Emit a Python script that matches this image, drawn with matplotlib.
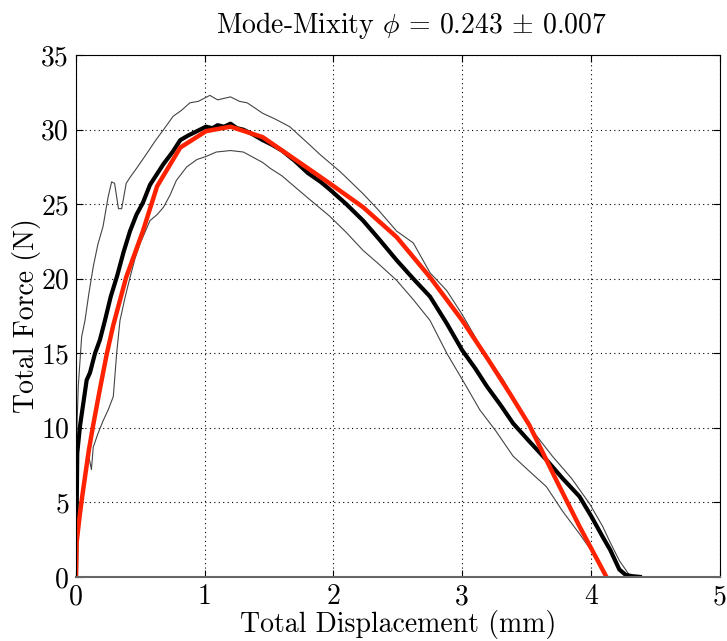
import matplotlib
matplotlib.use("Agg")
import matplotlib.pyplot as plt

plt.rcParams['font.family'] = 'serif'
plt.rcParams['font.serif'] = ['cmr10']
plt.rcParams['mathtext.fontset'] = 'cm'
plt.rcParams['axes.unicode_minus'] = False

# mean curve (thick black)
mean_x = [0, 0.005, 0.01, 0.031, 0.057, 0.083, 0.109, 0.148, 0.186, 0.225, 0.27, 0.32,
          0.37, 0.42, 0.47, 0.52, 0.575, 0.62, 0.68, 0.75, 0.81, 0.87, 0.94, 1.01, 1.06,
          1.1, 1.15, 1.2, 1.25, 1.3, 1.37, 1.45, 1.52, 1.6, 1.7, 1.8, 1.9, 1.97, 2.1,
          2.23, 2.35, 2.49, 2.62, 2.75, 2.88, 3.0, 3.1, 3.19, 3.3, 3.395, 3.52, 3.654,
          3.78, 3.91, 4.0, 4.09, 4.15, 4.22, 4.27, 4.32, 4.38]
mean_y = [0, 4.0, 8.3, 10.1, 11.65, 13.2, 13.7, 15.0, 15.9, 17.2, 18.8, 20.2,
          21.8, 23.2, 24.3, 25.1, 26.3, 26.9, 27.7, 28.5, 29.3, 29.6, 29.9, 30.2, 30.1,
          30.3, 30.2, 30.4, 30.1, 30.0, 29.7, 29.3, 29.0, 28.6, 27.9, 27.1, 26.5, 26.0, 25.0,
          23.9, 22.7, 21.25, 20.0, 18.8, 17.0, 15.2, 14.0, 12.8, 11.5, 10.3, 9.1, 7.85,
          6.6, 5.4, 4.1, 2.7, 1.8, 0.5, 0.13, 0.05, 0.0]

# upper envelope (thin)
upper_x = [0, 0.003, 0.005, 0.018, 0.044, 0.07, 0.1, 0.134, 0.17, 0.21, 0.25, 0.277,
           0.30, 0.33, 0.355, 0.39, 0.42, 0.47, 0.55, 0.62, 0.68, 0.755, 0.82, 0.885,
           0.95, 1.04, 1.1, 1.2, 1.27, 1.33, 1.45, 1.55, 1.66, 1.8, 1.9, 2.05, 2.23,
           2.35, 2.49, 2.62, 2.75, 2.88, 3.0, 3.16, 3.32, 3.52, 3.7, 3.85, 3.99, 4.09,
           4.15, 4.22, 4.30, 4.35]
upper_y = [0, 5.0, 9.4, 12.8, 16.1, 17.2, 19.0, 20.8, 22.3, 23.5, 25.5, 26.5,
           26.4, 24.7, 24.7, 26.4, 26.8, 27.4, 28.4, 29.3, 30.0, 30.9, 31.3, 31.8,
           31.9, 32.3, 32.0, 32.2, 31.9, 31.8, 31.1, 30.7, 30.2, 29.1, 28.3, 27.2, 25.7,
           24.6, 23.2, 22.4, 20.4, 19.2, 17.6, 15.2, 13.2, 10.1, 8.1, 6.6, 4.9, 3.4,
           2.3, 1.1, 0.1, 0.0]

# lower envelope (thin)
lower_x = [0.09, 0.12, 0.134, 0.17, 0.212, 0.25, 0.29, 0.316, 0.342, 0.38, 0.42, 0.46,
           0.50, 0.575, 0.63, 0.68, 0.73, 0.78, 0.86, 0.94, 1.01, 1.09, 1.2, 1.3, 1.45,
           1.51, 1.6, 1.79, 1.97, 2.1, 2.23, 2.35, 2.49, 2.62, 2.75, 2.88, 3.03, 3.137,
           3.26, 3.395, 3.52, 3.654, 3.78, 3.91, 4.0, 4.07, 4.11]
lower_y = [8.5, 7.2, 8.7, 9.6, 10.5, 11.2, 12.1, 15.0, 17.2, 18.7, 20.1, 21.4,
           22.4, 23.9, 24.3, 24.8, 25.6, 26.6, 27.5, 28.0, 28.2, 28.5, 28.6, 28.5, 27.8,
           27.4, 26.9, 25.5, 24.2, 23.1, 21.9, 21.0, 19.9, 18.6, 17.2, 15.0, 12.8, 11.2,
           9.8, 8.1, 7.1, 6.05, 4.4, 2.9, 1.8, 0.7, 0.0]

# model fit (red)
fit_x = [0, 0.005, 0.03, 0.05, 0.075, 0.1, 0.134, 0.186, 0.238, 0.29, 0.39, 0.52, 0.63,
         0.81, 1.01, 1.2, 1.45, 1.82, 1.97, 2.23, 2.49, 2.75, 3.0, 3.2, 3.37, 3.52,
         3.73, 3.91, 4.12]
fit_y = [0, 2.3, 4.2, 5.5, 7.0, 8.5, 10.2, 12.6, 14.9, 16.9, 20.1, 23.2, 26.2,
         28.8, 29.9, 30.2, 29.5, 27.3, 26.4, 24.8, 22.8, 20.1, 17.2, 14.6, 12.3, 10.2,
         6.5, 3.4, 0.0]

fig = plt.figure(figsize=(7.27, 6.41), dpi=100)
ax = fig.add_axes([0.1045, 0.100, 0.8855, 0.814])

ax.plot(upper_x, upper_y, color='#444444', linewidth=0.8)
ax.plot(lower_x, lower_y, color='#444444', linewidth=0.8)
ax.plot(mean_x, mean_y, color='black', linewidth=3.0)
ax.plot(fit_x, fit_y, color='#ff2200', linewidth=3.2)

ax.set_xlim(0, 5)
ax.set_ylim(0, 35)
ax.set_xticks(range(0, 6))
ax.set_yticks(range(0, 36, 5))
ax.grid(True, color='black', linestyle=(0, (1, 3)), linewidth=0.8)
ax.tick_params(direction='in', top=True, right=True, length=5, labelsize=20, pad=5)
ax.spines['bottom'].set_color('#666666')
ax.spines['bottom'].set_linewidth(1.5)

ax.set_xlabel('Total Displacement (mm)', fontsize=20, labelpad=0)
ax.set_ylabel('Total Force (N)', fontsize=20, labelpad=0)
ax.set_title(r'Mode-Mixity $\phi$ = 0.243 $\pm$ 0.007', fontsize=20, pad=16, x=0.522)

fig.savefig('out.png', dpi=100)
